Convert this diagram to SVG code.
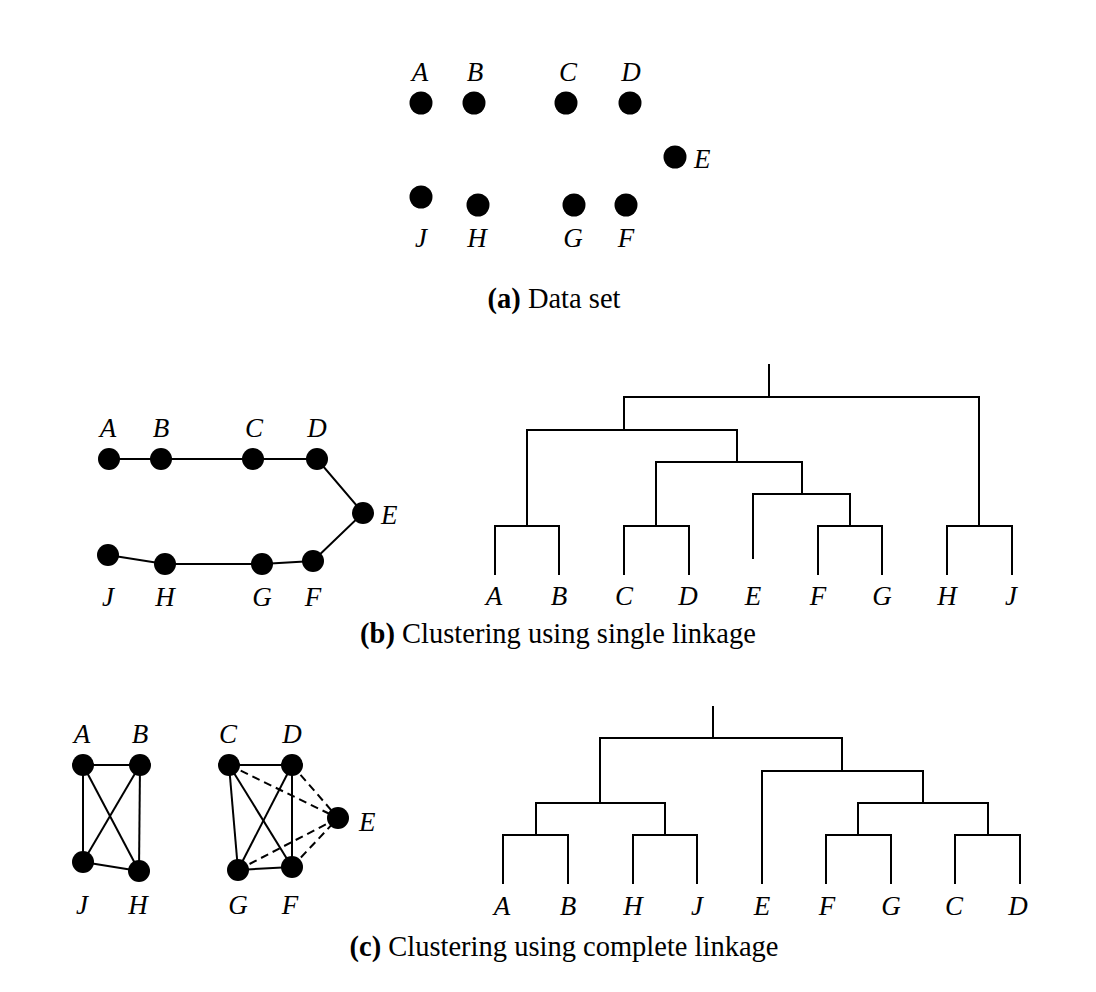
<svg xmlns="http://www.w3.org/2000/svg" width="1096" height="992" viewBox="0 0 1096 992">
<style>
.dot{fill:#000}
.lbl{font-family:"Liberation Serif","Times New Roman",serif;font-style:italic;font-size:27px;fill:#000;text-anchor:middle}
.lbl-s{font-family:"Liberation Serif","Times New Roman",serif;font-style:italic;font-size:27px;fill:#000}
.cap{font-family:"Liberation Serif","Times New Roman",serif;font-size:28.5px;fill:#000;text-anchor:middle}
.edge{stroke:#000;stroke-width:2;fill:none}
.dash{stroke:#000;stroke-width:2;fill:none;stroke-dasharray:8 5}
.tree{stroke:#000;stroke-width:2;fill:none;stroke-linecap:square}
</style>
<rect width="1096" height="992" fill="#fff"/>

<!-- (a) Data set -->
<g id="a-nodes">
<g id="a-A"><circle class="dot" cx="421" cy="103" r="11.5"/><text class="lbl" x="420" y="81">A</text></g>
<g id="a-B"><circle class="dot" cx="474" cy="103" r="11.5"/><text class="lbl" x="475" y="81">B</text></g>
<g id="a-C"><circle class="dot" cx="566" cy="103" r="11.5"/><text class="lbl" x="568" y="81">C</text></g>
<g id="a-D"><circle class="dot" cx="630" cy="103" r="11.5"/><text class="lbl" x="631" y="81">D</text></g>
<g id="a-E"><circle class="dot" cx="675" cy="157" r="11.5"/><text class="lbl-s" x="694" y="168">E</text></g>
<g id="a-J"><circle class="dot" cx="421" cy="197" r="11.5"/><text class="lbl" x="421" y="247">J</text></g>
<g id="a-H"><circle class="dot" cx="478" cy="205" r="11.5"/><text class="lbl" x="477" y="247">H</text></g>
<g id="a-G"><circle class="dot" cx="574" cy="205" r="11.5"/><text class="lbl" x="573" y="247">G</text></g>
<g id="a-F"><circle class="dot" cx="626" cy="205" r="11.5"/><text class="lbl" x="626" y="247">F</text></g>
</g>
<text class="cap" x="554" y="308"><tspan font-weight="bold">(a)</tspan> Data set</text>

<!-- (b) single linkage graph -->
<g id="b-connectors">
<polyline class="edge" points="109,459 161,459 253,459 317,459 363,513 313,561 262,564 165,564 108,555"/>
</g>
<g id="b-nodes">
<g id="b-A"><circle class="dot" cx="109" cy="459" r="11"/><text class="lbl" x="108" y="437">A</text></g>
<g id="b-B"><circle class="dot" cx="161" cy="459" r="11"/><text class="lbl" x="161" y="437">B</text></g>
<g id="b-C"><circle class="dot" cx="253" cy="459" r="11"/><text class="lbl" x="254" y="437">C</text></g>
<g id="b-D"><circle class="dot" cx="317" cy="459" r="11"/><text class="lbl" x="317" y="437">D</text></g>
<g id="b-E"><circle class="dot" cx="363" cy="513" r="11"/><text class="lbl-s" x="381" y="524">E</text></g>
<g id="b-J"><circle class="dot" cx="108" cy="555" r="11"/><text class="lbl" x="108" y="606">J</text></g>
<g id="b-H"><circle class="dot" cx="165" cy="564" r="11"/><text class="lbl" x="165" y="606">H</text></g>
<g id="b-G"><circle class="dot" cx="262" cy="564" r="11"/><text class="lbl" x="262" y="606">G</text></g>
<g id="b-F"><circle class="dot" cx="313" cy="561" r="11"/><text class="lbl" x="313" y="606">F</text></g>
</g>

<!-- (b) dendrogram -->
<g id="b-dendrogram">
<path class="tree" d="M495,574 V526 H559 V574 M527,526 V430 M624,574 V526 H689 V574 M656,526 V462 M753,558 V494 H850 M818,574 V526 H882 V574 M850,526 V494 M802,494 V462 M656,462 H802 M737,462 V430 M527,430 H737 M624,430 V397 M947,574 V526 H1012 V574 M979,526 V397 M624,397 H979 M769,397 V365"/>
<text class="lbl" x="494" y="605">A</text>
<text class="lbl" x="559" y="605">B</text>
<text class="lbl" x="624" y="605">C</text>
<text class="lbl" x="688" y="605">D</text>
<text class="lbl" x="753" y="605">E</text>
<text class="lbl" x="818" y="605">F</text>
<text class="lbl" x="882" y="605">G</text>
<text class="lbl" x="947" y="605">H</text>
<text class="lbl" x="1011" y="605">J</text>
</g>
<text class="cap" x="558" y="643"><tspan font-weight="bold">(b)</tspan> Clustering using single linkage</text>

<!-- (c) complete linkage graph -->
<g id="c-connectors">
<line class="edge" x1="83" y1="765" x2="140" y2="765"/>
<line class="edge" x1="83" y1="765" x2="83" y2="862"/>
<line class="edge" x1="83" y1="765" x2="139" y2="871"/>
<line class="edge" x1="140" y1="765" x2="83" y2="862"/>
<line class="edge" x1="140" y1="765" x2="139" y2="871"/>
<line class="edge" x1="83" y1="862" x2="139" y2="871"/>
<line class="edge" x1="229" y1="765" x2="292" y2="765"/>
<line class="edge" x1="229" y1="765" x2="238" y2="870"/>
<line class="edge" x1="229" y1="765" x2="292" y2="867"/>
<line class="edge" x1="292" y1="765" x2="238" y2="870"/>
<line class="edge" x1="292" y1="765" x2="292" y2="867"/>
<line class="edge" x1="238" y1="870" x2="292" y2="867"/>
<line class="dash" x1="229" y1="765" x2="338" y2="818"/>
<line class="dash" x1="292" y1="765" x2="338" y2="818"/>
<line class="dash" x1="238" y1="870" x2="338" y2="818"/>
<line class="dash" x1="292" y1="867" x2="338" y2="818"/>
</g>
<g id="c-nodes">
<g id="c-A"><circle class="dot" cx="83" cy="765" r="11"/><text class="lbl" x="82" y="743">A</text></g>
<g id="c-B"><circle class="dot" cx="140" cy="765" r="11"/><text class="lbl" x="140" y="743">B</text></g>
<g id="c-C"><circle class="dot" cx="229" cy="765" r="11"/><text class="lbl" x="228" y="743">C</text></g>
<g id="c-D"><circle class="dot" cx="292" cy="765" r="11"/><text class="lbl" x="292" y="743">D</text></g>
<g id="c-E"><circle class="dot" cx="338" cy="818" r="11"/><text class="lbl-s" x="359" y="831">E</text></g>
<g id="c-J"><circle class="dot" cx="83" cy="862" r="11"/><text class="lbl" x="82" y="914">J</text></g>
<g id="c-H"><circle class="dot" cx="139" cy="871" r="11"/><text class="lbl" x="138" y="914">H</text></g>
<g id="c-G"><circle class="dot" cx="238" cy="870" r="11"/><text class="lbl" x="238" y="914">G</text></g>
<g id="c-F"><circle class="dot" cx="292" cy="867" r="11"/><text class="lbl" x="290" y="914">F</text></g>
</g>

<!-- (c) dendrogram -->
<g id="c-dendrogram">
<path class="tree" d="M503,883 V835 H568 V883 M536,835 V803 M633,883 V835 H697 V883 M665,835 V803 M536,803 H665 M600,803 V738 M762,883 V771 H923 M826,883 V835 H891 V883 M858,835 V803 M955,883 V835 H1020 V883 M988,835 V803 M858,803 H988 M923,803 V771 M842,771 V738 M600,738 H842 M713,738 V707"/>
<text class="lbl" x="502" y="915">A</text>
<text class="lbl" x="568" y="915">B</text>
<text class="lbl" x="633" y="915">H</text>
<text class="lbl" x="697" y="915">J</text>
<text class="lbl" x="762" y="915">E</text>
<text class="lbl" x="827" y="915">F</text>
<text class="lbl" x="891" y="915">G</text>
<text class="lbl" x="954" y="915">C</text>
<text class="lbl" x="1018" y="915">D</text>
</g>
<text class="cap" x="564" y="956"><tspan font-weight="bold">(c)</tspan> Clustering using complete linkage</text>
</svg>
